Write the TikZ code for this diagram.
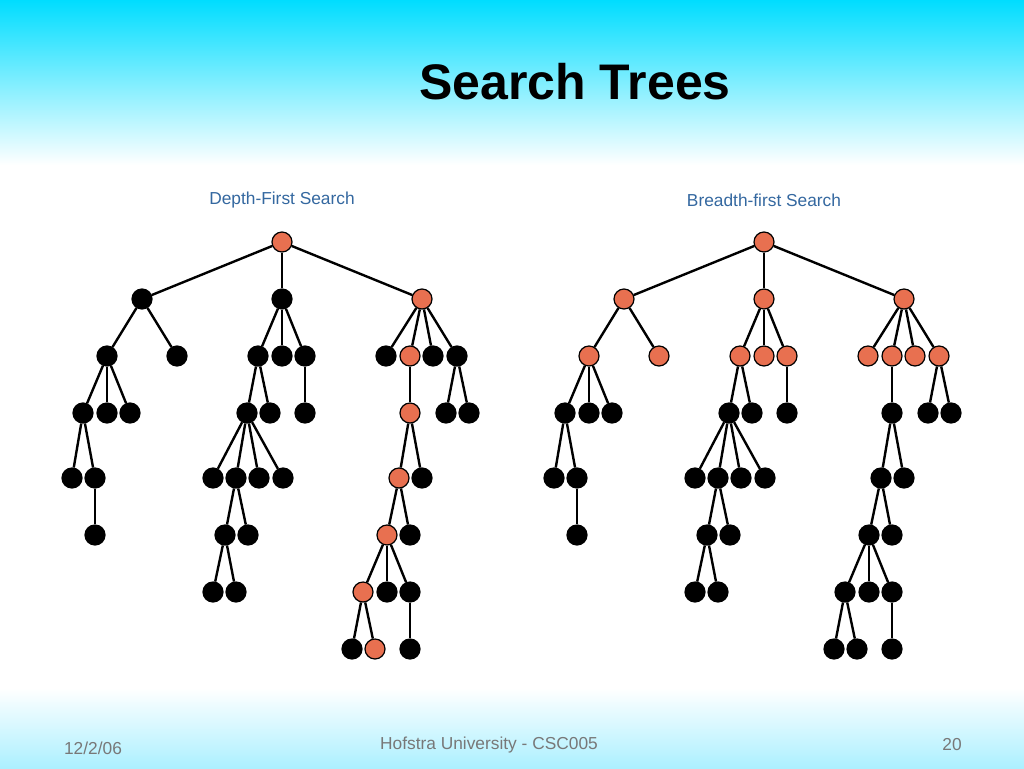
\documentclass[tikz,border=0pt]{standalone}
\usepackage{fontspec}
\setmainfont{Liberation Sans}
\definecolor{nodeorange}{RGB}{232,112,80}
\definecolor{subblue}{RGB}{52,104,160}
\definecolor{footgray}{RGB}{120,120,120}
\definecolor{topcyan}{RGB}{0,221,255}
\definecolor{botcyan}{RGB}{172,240,255}
\tikzset{
  tn/.style={circle, minimum size=15pt, inner sep=0pt, fill=black, draw=black, line width=0.9pt},
  edge/.style={line width=1.8pt, black},
  subtitle/.style={font=\fontsize{13}{15}\selectfont, text=subblue},
  foot/.style={font=\fontsize{13}{15}\selectfont, text=footgray}
}
\newcommand\searchtree[2]{%
\begin{scope}[xshift=#2]
\node[tn,dfsmark,bfsmark] (#1r) at (282,242) {};
\node[tn,bfsmark] (#1a) at (142,299) {};
\node[tn,bfsmark] (#1b) at (282,299) {};
\node[tn,dfsmark,bfsmark] (#1c) at (422,299) {};
\node[tn,bfsmark] (#1aa) at (107,356) {};
\node[tn,bfsmark] (#1ab) at (177,356) {};
\node[tn,bfsmark] (#1ba) at (258,356) {};
\node[tn,bfsmark] (#1bb) at (282,356) {};
\node[tn,bfsmark] (#1bc) at (305,356) {};
\node[tn,bfsmark] (#1ca) at (386,356) {};
\node[tn,dfsmark,bfsmark] (#1cb) at (410,356) {};
\node[tn,bfsmark] (#1cc) at (433,356) {};
\node[tn,bfsmark] (#1cd) at (457,356) {};
\node[tn] (#1aaa) at (83,413) {};
\node[tn] (#1aab) at (107,413) {};
\node[tn] (#1aac) at (130,413) {};
\node[tn] (#1baa) at (247,413) {};
\node[tn] (#1bab) at (270,413) {};
\node[tn] (#1bca) at (305,413) {};
\node[tn,dfsmark] (#1cba) at (410,413) {};
\node[tn] (#1cda) at (446,413) {};
\node[tn] (#1cdb) at (469,413) {};
\node[tn] (#1aaaa) at (72,478) {};
\node[tn] (#1aaab) at (95,478) {};
\node[tn] (#1baaa) at (213,478) {};
\node[tn] (#1baab) at (236,478) {};
\node[tn] (#1baac) at (259,478) {};
\node[tn] (#1baad) at (283,478) {};
\node[tn,dfsmark] (#1cbaa) at (399,478) {};
\node[tn] (#1cbab) at (422,478) {};
\node[tn] (#1aaaba) at (95,535) {};
\node[tn] (#1baaba) at (225,535) {};
\node[tn] (#1baabb) at (248,535) {};
\node[tn,dfsmark] (#1cbaaa) at (387,535) {};
\node[tn] (#1cbaab) at (410,535) {};
\node[tn] (#1baabaa) at (213,592) {};
\node[tn] (#1baabab) at (236,592) {};
\node[tn,dfsmark] (#1cbaaaa) at (363,592) {};
\node[tn] (#1cbaaab) at (387,592) {};
\node[tn] (#1cbaaac) at (410,592) {};
\node[tn] (#1cbaaaaa) at (352,649) {};
\node[tn,dfsmark] (#1cbaaaab) at (375,649) {};
\node[tn] (#1cbaaaca) at (410,649) {};
\foreach \p/\c in {r/a, r/b, r/c, a/aa, a/ab, b/ba, b/bb, b/bc, c/ca, c/cb, c/cc, c/cd,
  aa/aaa, aa/aab, aa/aac, ba/baa, ba/bab, bc/bca, cb/cba, cd/cda, cd/cdb,
  aaa/aaaa, aaa/aaab, baa/baaa, baa/baab, baa/baac, baa/baad, cba/cbaa, cba/cbab,
  aaab/aaaba, baab/baaba, baab/baabb, cbaa/cbaaa, cbaa/cbaab,
  baaba/baabaa, baaba/baabab, cbaaa/cbaaaa, cbaaa/cbaaab, cbaaa/cbaaac,
  cbaaaa/cbaaaaa, cbaaaa/cbaaaab, cbaaac/cbaaaca}
  \draw[edge] (#1\p) -- (#1\c);
\end{scope}}
\begin{document}
\begin{tikzpicture}[x=0.75pt,y=-0.75pt]
\useasboundingbox (0,0) rectangle (1024,768);
\fill[white] (0,0) rectangle (1024,768);
\shade[top color=topcyan, bottom color=white] (0,0) rectangle (1024,165);
\shade[top color=white, bottom color=botcyan] (0,688) rectangle (1024,768);
\node[font=\fontsize{37.5}{44}\selectfont\bfseries] (title) at (575,82) {Search Trees};
\node[subtitle] (dfs) at (282,200) {Depth-First Search};
\node[subtitle] (bfs) at (764,200) {Breadth-first Search};
\begin{scope}[dfsmark/.style={fill=nodeorange}, bfsmark/.style={}]
\searchtree{L}{0pt}
\end{scope}
\begin{scope}[dfsmark/.style={}, bfsmark/.style={fill=nodeorange}]
\searchtree{R}{361.5pt}
\end{scope}
\node[foot] (date) at (93,748) {12/2/06};
\node[foot] (univ) at (489,745) {Hofstra University - CSC005};
\node[foot] (page) at (952,745) {20};
\end{tikzpicture}
\end{document}
